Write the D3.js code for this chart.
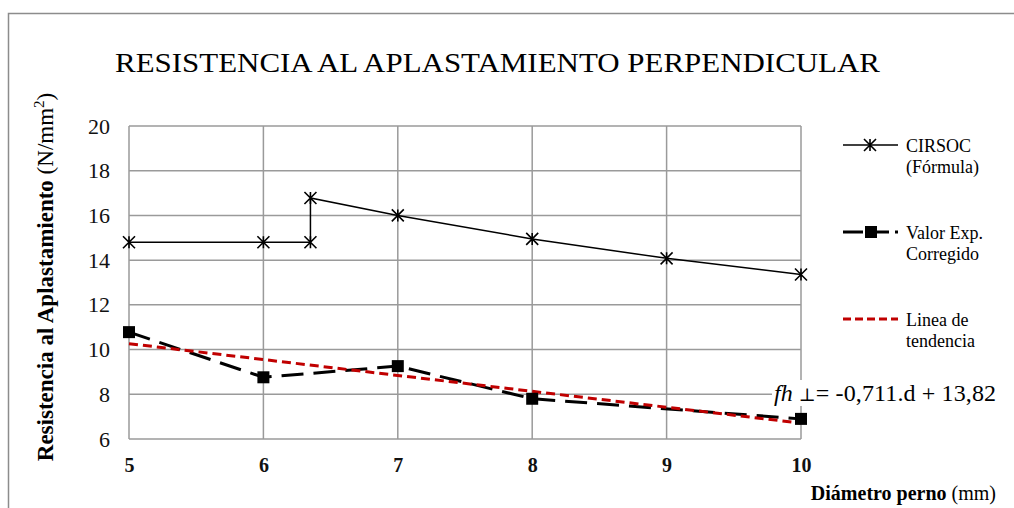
<!DOCTYPE html>
<html>
<head>
<meta charset="utf-8">
<script src="https://cdn.jsdelivr.net/npm/d3@7"></script>
<style>
  body { margin: 0; background: #fff; }
  text { font-family: "Liberation Serif", "Times New Roman", serif; }
</style>
</head>
<body>
<div id="canvas"></div>
<script>
// data
const cirsocX = [5, 6, 6.35, 6.35, 7, 8, 9, 10];
const cirsocY = [14.8, 14.8, 14.8, 16.78, 16.0, 14.95, 14.08, 13.36];
const expX = [5, 6, 7, 8, 10];
const expY = [10.78, 8.76, 9.26, 7.8, 6.9];
const trendSlope = -0.711;
const trendCut = 13.82;
const trendX = [5, 10];
const xTicks = [5, 6, 7, 8, 9, 10];
const yTicks = [6, 8, 10, 12, 14, 16, 18, 20];
const legendNames = [["CIRSOC", "(Fórmula)"], ["Valor Exp.", "Corregido"], ["Linea de", "tendencia"]];

const width = 1014;
const height = 508;
const margin = { top: 126, left: 129, bottom: 69, right: 213 };
const iwidth = width - margin.left - margin.right;
const iheight = height - margin.top - margin.bottom;

const svg = d3.select("#canvas").append("svg")
  .attr("width", width)
  .attr("height", height);

// outer frame
svg.append("rect")
  .attr("x", 8.5).attr("y", 13.5)
  .attr("width", width + 10).attr("height", height + 10)
  .attr("fill", "none").attr("stroke", "#8c8c8c").attr("stroke-width", 1.5);

svg.append("text")
  .attr("x", 115).attr("y", 72)
  .attr("font-size", 27)
  .attr("textLength", 765).attr("lengthAdjust", "spacingAndGlyphs")
  .text("RESISTENCIA AL APLASTAMIENTO PERPENDICULAR");

const g = svg.append("g").attr("transform", `translate(${margin.left},${margin.top})`);

const x = d3.scaleLinear().domain([5, 10]).range([0, iwidth]);
const y = d3.scaleLinear().domain([6, 20]).range([iheight, 0]);

// grid
g.selectAll(".hgrid").data(yTicks).enter().append("line")
  .attr("x1", 0).attr("x2", iwidth)
  .attr("y1", d => y(d)).attr("y2", d => y(d))
  .attr("stroke", "#9a9a9a").attr("stroke-width", 1.5);
g.selectAll(".vgrid").data(xTicks).enter().append("line")
  .attr("x1", d => x(d)).attr("x2", d => x(d))
  .attr("y1", 0).attr("y2", iheight)
  .attr("stroke", "#9a9a9a").attr("stroke-width", 1.5);

// axes
const yAxis = g.append("g").call(d3.axisLeft(y).tickValues(yTicks).tickSize(0).tickPadding(19));
yAxis.select(".domain").remove();
yAxis.selectAll("text").attr("font-size", 22).attr("font-family", "Liberation Serif").attr("fill", "#111");

const xAxis = g.append("g").attr("transform", `translate(0,${iheight})`)
  .call(d3.axisBottom(x).tickValues(xTicks).tickSize(0).tickPadding(19).tickFormat(d3.format("d")));
xAxis.select(".domain").remove();
xAxis.selectAll("text").attr("font-size", 20).attr("font-weight", "bold")
  .attr("font-family", "Liberation Serif").attr("fill", "#111");

// axis titles
const yl = svg.append("text")
  .attr("transform", "translate(53,277) rotate(-90)")
  .attr("text-anchor", "middle").attr("font-size", 23);
yl.append("tspan").attr("font-weight", "bold").text("Resistencia al Aplastamiento");
yl.append("tspan").text(" (N/mm");
yl.append("tspan").attr("font-size", 15).attr("dy", -9).text("2");
yl.append("tspan").attr("dy", 9).text(")");

const xl = svg.append("text")
  .attr("x", 996).attr("y", 500)
  .attr("text-anchor", "end").attr("font-size", 20);
xl.append("tspan").attr("font-weight", "bold").text("Diámetro perno");
xl.append("tspan").text(" (mm)");

// series
const line = d3.line().x(d => x(d[0])).y(d => y(d[1]));
const cirsoc = cirsocX.map((d, i) => [d, cirsocY[i]]);
const exp = expX.map((d, i) => [d, expY[i]]);
const trend = trendX.map(d => [d, trendSlope * d + trendCut]);

g.append("path").datum(exp).attr("d", line)
  .attr("fill", "none").attr("stroke", "#000").attr("stroke-width", 3)
  .attr("stroke-dasharray", "22,10");

g.append("path").datum(trend).attr("d", line)
  .attr("fill", "none").attr("stroke", "#c00000").attr("stroke-width", 3)
  .attr("stroke-dasharray", "9,5");

g.append("path").datum(cirsoc).attr("d", line)
  .attr("fill", "none").attr("stroke", "#000").attr("stroke-width", 1.5);

function star(sel, cx, cy) {
  const r = 6;
  sel.append("path")
    .attr("d", `M${cx - r},${cy - r}L${cx + r},${cy + r}M${cx - r},${cy + r}L${cx + r},${cy - r}M${cx},${cy - r}L${cx},${cy + r}`)
    .attr("stroke", "#000").attr("stroke-width", 1.6).attr("fill", "none");
}
cirsoc.forEach(d => star(g, x(d[0]), y(d[1])));

g.selectAll(".sq").data(exp).enter().append("rect")
  .attr("x", d => x(d[0]) - 6).attr("y", d => y(d[1]) - 6)
  .attr("width", 12).attr("height", 12).attr("fill", "#000");

// equation label
svg.append("rect").attr("x", 772).attr("y", 380).attr("width", 230).attr("height", 26).attr("fill", "#fff");
const eq = svg.append("text").attr("x", 774).attr("y", 401)
  .attr("font-size", 24).attr("font-family", "Liberation Serif")
  .attr("textLength", 222).attr("lengthAdjust", "spacing");
eq.append("tspan").attr("font-style", "italic").text("fh");
eq.append("tspan").attr("font-size", 18).attr("font-family", "DejaVu Serif").text(" ⊥");
eq.append("tspan").text("= -0,711.d + 13,82");

// legend
const lg = svg.append("g");
const legY = [145, 232, 319];
lg.append("line").attr("x1", 843).attr("x2", 898).attr("y1", legY[0]).attr("y2", legY[0])
  .attr("stroke", "#000").attr("stroke-width", 1.5);
star(lg, 870, legY[0]);
lg.append("line").attr("x1", 843).attr("x2", 898).attr("y1", legY[1]).attr("y2", legY[1])
  .attr("stroke", "#000").attr("stroke-width", 3).attr("stroke-dasharray", "20,6");
lg.append("rect").attr("x", 865).attr("y", legY[1] - 6).attr("width", 12).attr("height", 12).attr("fill", "#000");
lg.append("line").attr("x1", 843).attr("x2", 898).attr("y1", legY[2]).attr("y2", legY[2])
  .attr("stroke", "#c00000").attr("stroke-width", 3).attr("stroke-dasharray", "8,4");

legendNames.forEach((n, i) => {
  const t = lg.append("text").attr("x", 906).attr("y", legY[i] + 7).attr("font-size", 18);
  t.append("tspan").attr("x", 906).text(n[0]);
  t.append("tspan").attr("x", 906).attr("dy", 21).text(n[1]);
});
</script>
</body>
</html>
